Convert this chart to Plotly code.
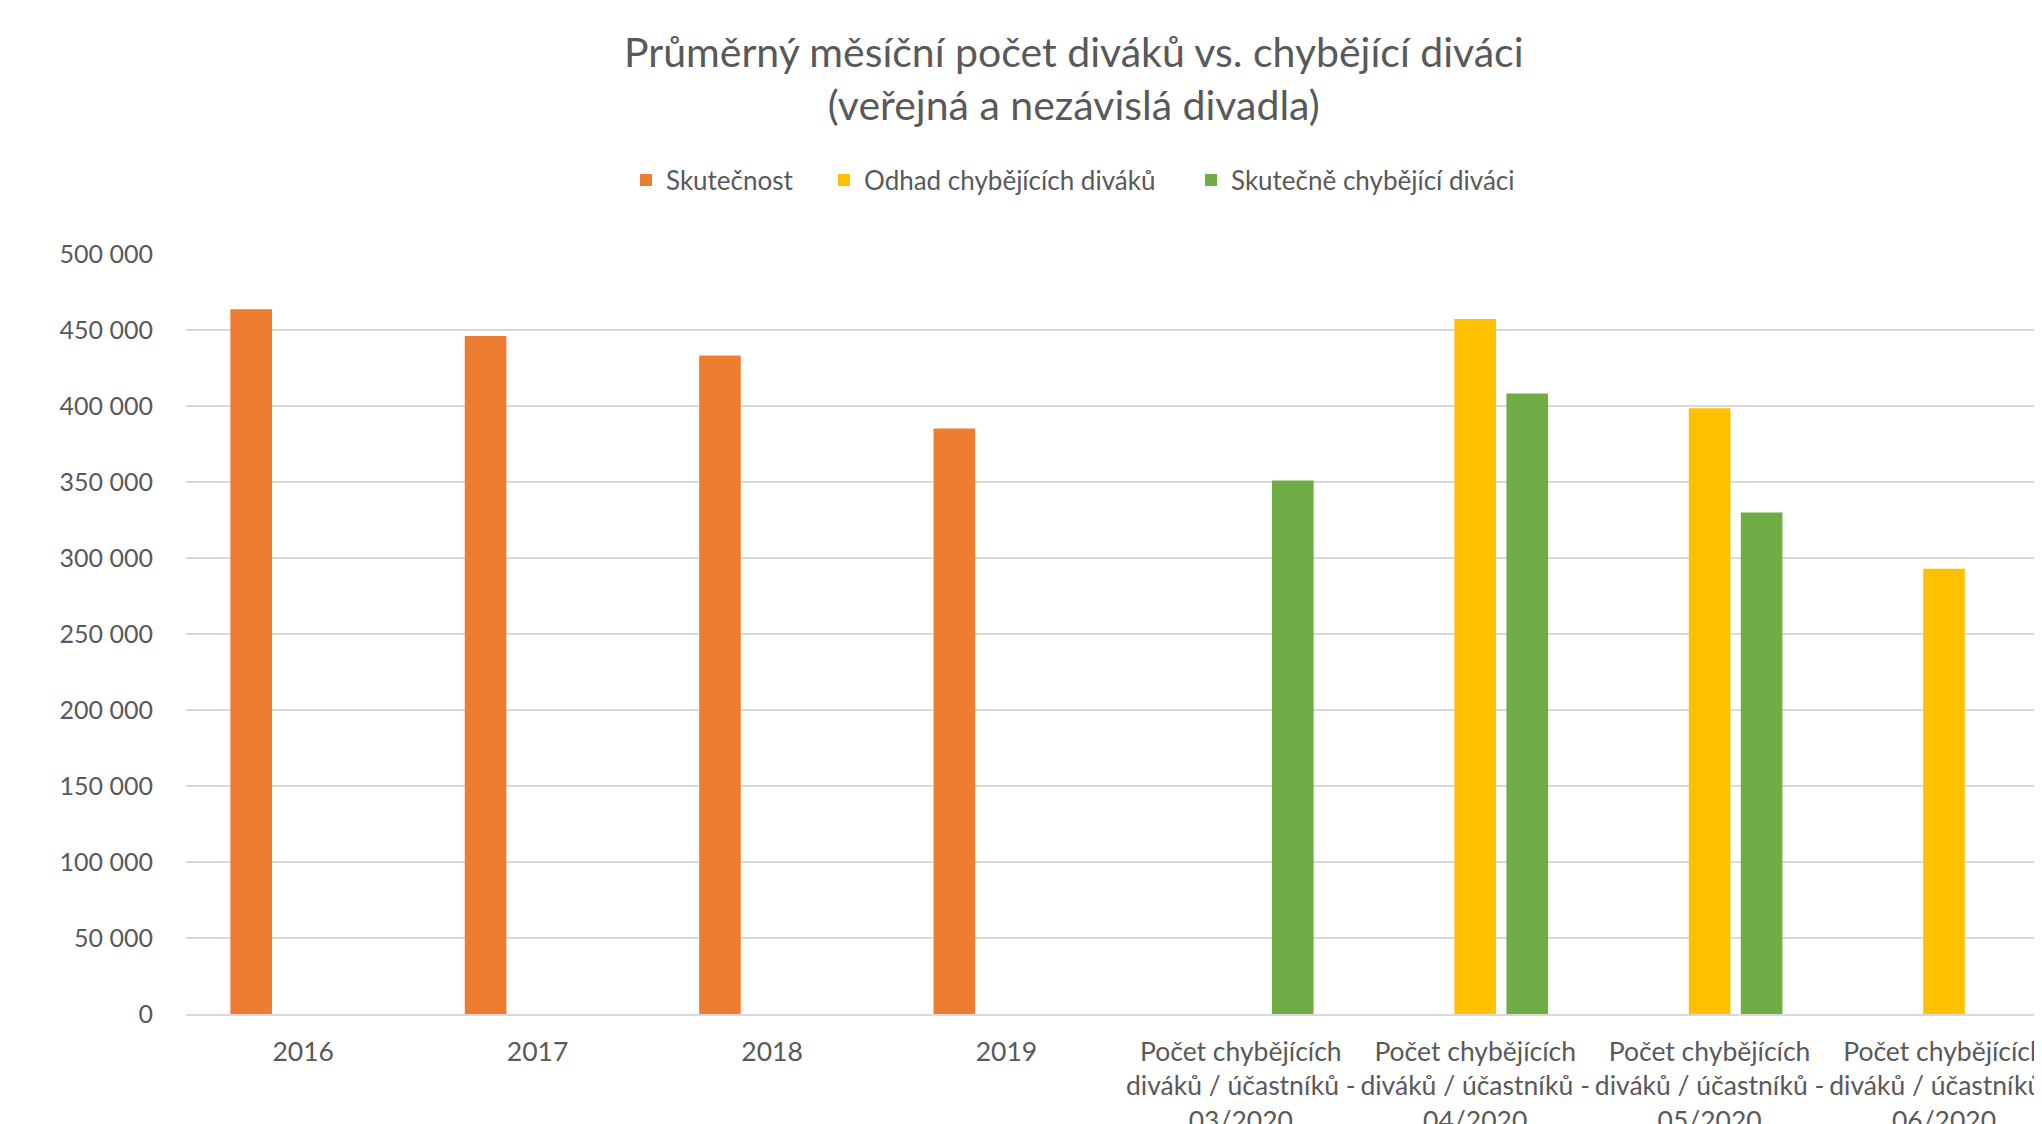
import plotly.graph_objects as go

categories = [
    "2016", "2017", "2018", "2019",
    "Počet chybějících<br>diváků / účastníků -<br>03/2020",
    "Počet chybějících<br>diváků / účastníků -<br>04/2020",
    "Počet chybějících<br>diváků / účastníků -<br>05/2020",
    "Počet chybějících<br>diváků / účastníků -<br>06/2020",
]
skutecnost = [463600, 446000, 433200, 385200, None, None, None, None]
odhad = [None, None, None, None, None, 457200, 398500, 293000]
skutecne_chybejici = [None, None, None, None, 351000, 408300, 330000, None]

series_names = ["Skutečnost", "Odhad chybějících diváků", "Skutečně chybějící diváci"]
colors = ["#ED7D31", "#FFC000", "#70AD47"]
legend_ids = ["legend", "legend2", "legend3"]

FONT = "Lato"
GREY = "#595959"

W, H = 2034, 1116
L, T, B = 178, 246, 110
PLOT_W = W - L
PLOT_H = H - T - B
CAT_W = 234.4

fig = go.Figure()
for name, vals, col, lg in zip(series_names, [skutecnost, odhad, skutecne_chybejici], colors, legend_ids):
    fig.add_trace(go.Bar(
        x=list(range(len(categories))), y=vals, name=name,
        marker=dict(color=col, line=dict(width=0)),
        legend=lg,
    ))

legend_common = dict(
    orientation="h", xref="container", xanchor="left",
    yref="container", yanchor="middle", y=1 - 172 / H,
    font=dict(family=FONT, size=26, color=GREY),
    itemclick=False, bgcolor="rgba(0,0,0,0)", borderwidth=0,
)
legend_x_px = [618, 816, 1183]

fig.update_layout(
    template="none",
    width=W, height=H,
    margin=dict(l=L, r=0, t=T, b=B, autoexpand=False),
    paper_bgcolor="white", plot_bgcolor="white",
    barmode="group", bargap=0.334, bargroupgap=0.2,
    separators=", ",
    font=dict(family=FONT, color=GREY, size=24),
    legend=dict(x=legend_x_px[0] / W, **legend_common),
    legend2=dict(x=legend_x_px[1] / W, **legend_common),
    legend3=dict(x=legend_x_px[2] / W, **legend_common),
    showlegend=True,
    annotations=[dict(
        text="Průměrný měsíční počet diváků vs. chybějící diváci<br>(veřejná a nezávislá divadla)",
        xref="paper", yref="paper",
        x=(1066 - L) / PLOT_W, y=(H - B - 70) / PLOT_H,
        xanchor="center", yanchor="middle", showarrow=False,
        font=dict(family=FONT, size=41, color=GREY),
    )],
)

fig.update_xaxes(
    tickmode="array", tickvals=list(range(len(categories))), ticktext=categories,
    range=[-0.5, -0.5 + PLOT_W / CAT_W],
    showgrid=False, zeroline=False, showline=True, linecolor="#d9d9d9", linewidth=2,
    ticks="", automargin=False, tickangle=0, ticklabeloverflow="allow",
    ticklabelstandoff=13,
    tickfont=dict(family=FONT, size=26.5, color=GREY),
)
fig.update_yaxes(
    range=[0, 500000], dtick=50000, tick0=0, tickformat=",d",
    showgrid=True, gridcolor="#d9d9d9", gridwidth=2,
    zeroline=False, showline=False, ticks="", automargin=False,
    ticklabelstandoff=32,
    tickfont=dict(family=FONT, size=25, color=GREY),
)

fig.write_html("out.html")
